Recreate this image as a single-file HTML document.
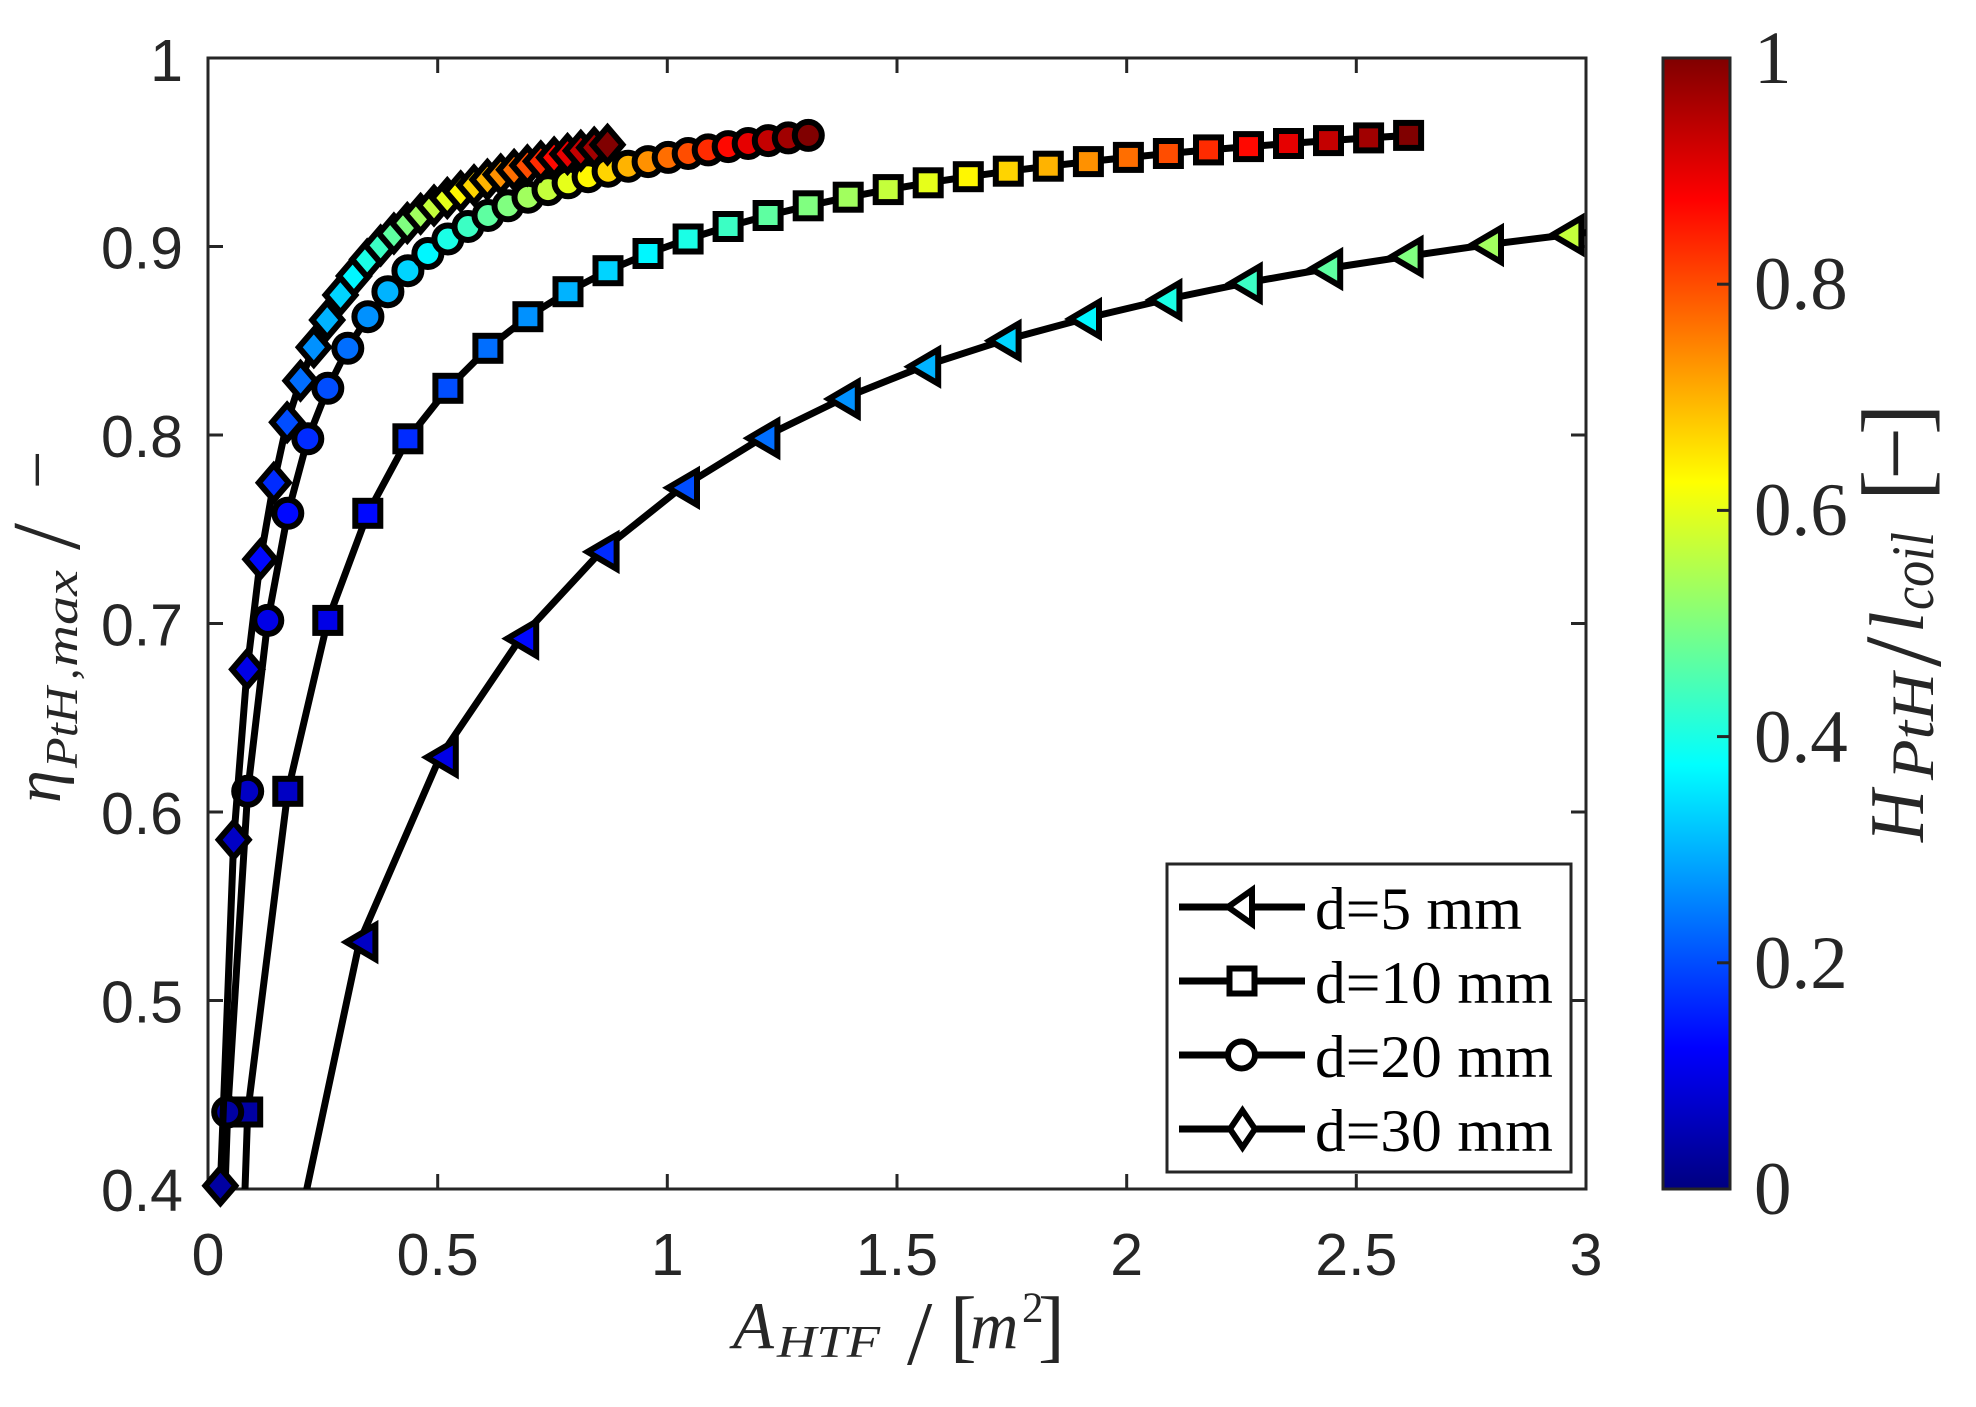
<!DOCTYPE html>
<html><head><meta charset="utf-8"><style>html,body{margin:0;padding:0;background:#fff;width:1976px;height:1407px;overflow:hidden}svg{display:block}</style></head><body>
<svg xmlns="http://www.w3.org/2000/svg" width="1976" height="1407" viewBox="0 0 1976 1407">
<defs>
<linearGradient id="jet" x1="0" y1="1" x2="0" y2="0">
<stop offset="0" stop-color="#000080"/><stop offset="0.125" stop-color="#0000ff"/><stop offset="0.375" stop-color="#00ffff"/><stop offset="0.625" stop-color="#ffff00"/><stop offset="0.875" stop-color="#ff0000"/><stop offset="1" stop-color="#800000"/>
</linearGradient>
<clipPath id="ax"><rect x="208" y="58" width="1378" height="1131"/></clipPath>
<path id="tri" d="M-13,0L16,-17L16,17Z" stroke="#000" stroke-width="6"/>
<rect id="sq" x="-12.5" y="-12.5" width="25" height="25" stroke="#000" stroke-width="6"/>
<circle id="ci" r="13.5" stroke="#000" stroke-width="6"/>
<path id="di" d="M0,-17.5L15,0L0,17.5L-15,0Z" stroke="#000" stroke-width="6"/>
<path id="ltri" d="M-11,0L13,-17L13,17Z" stroke="#000" stroke-width="6"/>
<path id="ldi" d="M0,-18.5L12.5,0L0,18.5L-12.5,0Z" stroke="#000" stroke-width="6"/>
</defs>
<rect width="1976" height="1407" fill="#fff"/>

<!-- axes box -->
<rect x="208" y="58" width="1378" height="1131" fill="#fff" stroke="#262626" stroke-width="3"/>
<g stroke="#262626" stroke-width="3">
<line x1="437.7" y1="1189" x2="437.7" y2="1174"/><line x1="667.3" y1="1189" x2="667.3" y2="1174"/><line x1="897" y1="1189" x2="897" y2="1174"/><line x1="1126.7" y1="1189" x2="1126.7" y2="1174"/><line x1="1356.3" y1="1189" x2="1356.3" y2="1174"/>
<line x1="437.7" y1="58" x2="437.7" y2="73"/><line x1="667.3" y1="58" x2="667.3" y2="73"/><line x1="897" y1="58" x2="897" y2="73"/><line x1="1126.7" y1="58" x2="1126.7" y2="73"/><line x1="1356.3" y1="58" x2="1356.3" y2="73"/>
<line x1="208" y1="1000.5" x2="223" y2="1000.5"/><line x1="208" y1="812" x2="223" y2="812"/><line x1="208" y1="623.5" x2="223" y2="623.5"/><line x1="208" y1="435" x2="223" y2="435"/><line x1="208" y1="246.5" x2="223" y2="246.5"/>
<line x1="1586" y1="1000.5" x2="1571" y2="1000.5"/><line x1="1586" y1="812" x2="1571" y2="812"/><line x1="1586" y1="623.5" x2="1571" y2="623.5"/><line x1="1586" y1="435" x2="1571" y2="435"/><line x1="1586" y1="246.5" x2="1571" y2="246.5"/>
</g>

<!-- tick labels -->
<g font-family="'Liberation Sans', Arial, sans-serif" font-size="59" fill="#262626" text-anchor="middle">
<text x="208" y="1275">0</text><text x="437.7" y="1275">0.5</text><text x="667.3" y="1275">1</text><text x="897" y="1275">1.5</text><text x="1126.7" y="1275">2</text><text x="1356.3" y="1275">2.5</text><text x="1586" y="1275">3</text>
</g>
<g font-family="'Liberation Sans', Arial, sans-serif" font-size="59" fill="#262626" text-anchor="end">
<text x="183" y="1211">0.4</text><text x="183" y="1022.5">0.5</text><text x="183" y="834">0.6</text><text x="183" y="645.5">0.7</text><text x="183" y="457">0.8</text><text x="183" y="268.5">0.9</text><text x="183" y="81">1</text>
</g>

<!-- x label -->
<g font-family="'Liberation Serif', 'Times New Roman', serif" fill="#262626">
<text x="733" y="1348" font-size="67" font-style="italic">A</text>
<text x="777" y="1357" font-size="45" font-style="italic" textLength="103" lengthAdjust="spacingAndGlyphs">HTF</text>
<text x="907" y="1364" font-size="91">/</text>
<text x="950" y="1352" font-size="80">[</text>
<text x="970" y="1348" font-size="67" font-style="italic">m</text>
<text x="1022" y="1322" font-size="43">2</text>
<text x="1038" y="1352" font-size="80">]</text>
</g>

<!-- y label -->
<g transform="rotate(-90)" font-family="'Liberation Serif', 'DejaVu Serif', 'Times New Roman', serif" fill="#262626">
<text x="-803" y="60" font-size="66" font-style="italic">η</text>
<text x="-768" y="77" font-size="46" font-style="italic" textLength="81" lengthAdjust="spacingAndGlyphs">PtH</text>
<text x="-680" y="77" font-size="46" font-style="italic">,</text>
<text x="-667" y="77" font-size="46" font-style="italic" textLength="97" lengthAdjust="spacingAndGlyphs">max</text>
<text x="-550" y="79" font-size="97">/</text>
<text x="-489" y="60" font-size="68">−</text>
</g>

<!-- series d=5 -->
<g clip-path="url(#ax)" fill="none" stroke="#000" stroke-width="7" stroke-linejoin="round">
<polyline points="305.5,1195 359.4,942.1 439.8,757.3 520.2,638.6 600.6,551.9 681.0,487.8 761.4,438.2 841.8,399 922.2,366.7 1002.6,340.7 1083.0,319 1163.4,300 1243.8,283.3 1324.2,269 1404.6,256.7 1485.0,245 1565.4,235 1590,232.2"/>
</g>
<g>
<use href="#tri" x="359.4" y="942.1" fill="#0000c4"/>
<use href="#tri" x="439.8" y="757.3" fill="#0000e6"/>
<use href="#tri" x="520.2" y="638.6" fill="#0008ff"/>
<use href="#tri" x="600.6" y="551.9" fill="#002bff"/>
<use href="#tri" x="681.0" y="487.8" fill="#004dff"/>
<use href="#tri" x="761.4" y="438.2" fill="#006eff"/>
<use href="#tri" x="841.8" y="399" fill="#0091ff"/>
<use href="#tri" x="922.2" y="366.7" fill="#00b3ff"/>
<use href="#tri" x="1002.6" y="340.7" fill="#00d4ff"/>
<use href="#tri" x="1083.0" y="319" fill="#00f7ff"/>
<use href="#tri" x="1163.4" y="300" fill="#1affe6"/>
<use href="#tri" x="1243.8" y="283.3" fill="#3bffc4"/>
<use href="#tri" x="1324.2" y="269" fill="#5effa1"/>
<use href="#tri" x="1404.6" y="256.7" fill="#80ff80"/>
<use href="#tri" x="1485.0" y="245" fill="#a1ff5e"/>
<use href="#tri" x="1565.4" y="235" fill="#c4ff3b"/>
</g>

<!-- series d=10 -->
<g clip-path="url(#ax)" fill="none" stroke="#000" stroke-width="7" stroke-linejoin="round">
<polyline points="244.8,1195 247.7,1112 287.8,791.3 327.8,620.4 367.8,513.3 407.9,438.8 447.9,388.3 487.9,348.3 527.9,316.7 568.0,291.7 608.0,270.7 648.0,253.5 688.1,239.0 728.1,226.5 768.1,215.5 808.2,205.8 848.2,197.2 888.2,189.6 928.2,182.8 968.3,176.7 1008.3,171.2 1048.3,166.2 1088.4,161.6 1128.4,157.4 1168.4,153.5 1208.5,149.9 1248.5,146.6 1288.5,143.5 1328.5,140.6 1368.6,137.9 1408.6,135.4"/>
</g>
<g>
<use href="#sq" x="247.7" y="1112" fill="#0000a1"/>
<use href="#sq" x="287.8" y="791.3" fill="#0000c4"/>
<use href="#sq" x="327.8" y="620.4" fill="#0000e6"/>
<use href="#sq" x="367.8" y="513.3" fill="#0008ff"/>
<use href="#sq" x="407.9" y="438.8" fill="#002bff"/>
<use href="#sq" x="447.9" y="388.3" fill="#004dff"/>
<use href="#sq" x="487.9" y="348.3" fill="#006eff"/>
<use href="#sq" x="527.9" y="316.7" fill="#0091ff"/>
<use href="#sq" x="568.0" y="291.7" fill="#00b3ff"/>
<use href="#sq" x="608.0" y="270.7" fill="#00d4ff"/>
<use href="#sq" x="648.0" y="253.5" fill="#00f7ff"/>
<use href="#sq" x="688.1" y="239.0" fill="#1affe6"/>
<use href="#sq" x="728.1" y="226.5" fill="#3bffc4"/>
<use href="#sq" x="768.1" y="215.5" fill="#5effa1"/>
<use href="#sq" x="808.2" y="205.8" fill="#80ff80"/>
<use href="#sq" x="848.2" y="197.2" fill="#a1ff5e"/>
<use href="#sq" x="888.2" y="189.6" fill="#c4ff3b"/>
<use href="#sq" x="928.2" y="182.8" fill="#e6ff1a"/>
<use href="#sq" x="968.3" y="176.7" fill="#fff700"/>
<use href="#sq" x="1008.3" y="171.2" fill="#ffd400"/>
<use href="#sq" x="1048.3" y="166.2" fill="#ffb300"/>
<use href="#sq" x="1088.4" y="161.6" fill="#ff9100"/>
<use href="#sq" x="1128.4" y="157.4" fill="#ff6e00"/>
<use href="#sq" x="1168.4" y="153.5" fill="#ff4d00"/>
<use href="#sq" x="1208.5" y="149.9" fill="#ff2b00"/>
<use href="#sq" x="1248.5" y="146.6" fill="#ff0800"/>
<use href="#sq" x="1288.5" y="143.5" fill="#e60000"/>
<use href="#sq" x="1328.5" y="140.6" fill="#c40000"/>
<use href="#sq" x="1368.6" y="137.9" fill="#a10000"/>
<use href="#sq" x="1408.6" y="135.4" fill="#800000"/>
</g>

<!-- series d=20 -->
<g clip-path="url(#ax)" fill="none" stroke="#000" stroke-width="7" stroke-linejoin="round">
<polyline points="224.8,1195 227.7,1112 247.7,791.3 267.8,620.4 287.8,513.3 307.8,438.8 327.8,388.3 347.8,348.3 367.9,316.7 387.9,291.7 407.9,270.7 427.9,253.5 447.9,239.0 468.0,226.5 488.0,215.5 508.0,205.8 528.0,197.2 548.0,189.6 568.1,182.8 588.1,176.7 608.1,171.2 628.1,166.2 648.1,161.6 668.2,157.4 688.2,153.5 708.2,149.9 728.2,146.6 748.2,143.5 768.3,140.6 788.3,137.9 808.3,135.4"/>
</g>
<g>
<use href="#ci" x="227.7" y="1112" fill="#0000a1"/>
<use href="#ci" x="247.7" y="791.3" fill="#0000c4"/>
<use href="#ci" x="267.8" y="620.4" fill="#0000e6"/>
<use href="#ci" x="287.8" y="513.3" fill="#0008ff"/>
<use href="#ci" x="307.8" y="438.8" fill="#002bff"/>
<use href="#ci" x="327.8" y="388.3" fill="#004dff"/>
<use href="#ci" x="347.8" y="348.3" fill="#006eff"/>
<use href="#ci" x="367.9" y="316.7" fill="#0091ff"/>
<use href="#ci" x="387.9" y="291.7" fill="#00b3ff"/>
<use href="#ci" x="407.9" y="270.7" fill="#00d4ff"/>
<use href="#ci" x="427.9" y="253.5" fill="#00f7ff"/>
<use href="#ci" x="447.9" y="239.0" fill="#1affe6"/>
<use href="#ci" x="468.0" y="226.5" fill="#3bffc4"/>
<use href="#ci" x="488.0" y="215.5" fill="#5effa1"/>
<use href="#ci" x="508.0" y="205.8" fill="#80ff80"/>
<use href="#ci" x="528.0" y="197.2" fill="#a1ff5e"/>
<use href="#ci" x="548.0" y="189.6" fill="#c4ff3b"/>
<use href="#ci" x="568.1" y="182.8" fill="#e6ff1a"/>
<use href="#ci" x="588.1" y="176.7" fill="#fff700"/>
<use href="#ci" x="608.1" y="171.2" fill="#ffd400"/>
<use href="#ci" x="628.1" y="166.2" fill="#ffb300"/>
<use href="#ci" x="648.1" y="161.6" fill="#ff9100"/>
<use href="#ci" x="668.2" y="157.4" fill="#ff6e00"/>
<use href="#ci" x="688.2" y="153.5" fill="#ff4d00"/>
<use href="#ci" x="708.2" y="149.9" fill="#ff2b00"/>
<use href="#ci" x="728.2" y="146.6" fill="#ff0800"/>
<use href="#ci" x="748.2" y="143.5" fill="#e60000"/>
<use href="#ci" x="768.3" y="140.6" fill="#c40000"/>
<use href="#ci" x="788.3" y="137.9" fill="#a10000"/>
<use href="#ci" x="808.3" y="135.4" fill="#800000"/>
</g>

<!-- series d=30 -->
<g clip-path="url(#ax)" fill="none" stroke="#000" stroke-width="7" stroke-linejoin="round">
<polyline points="220.1,1195 220.4,1185.7 233.7,839.8 247.1,669.4 260.4,559.2 273.8,482.7 287.1,422.3 300.5,380.7 313.8,347.3 327.2,320 340.5,295 353.9,276 367.2,259.5 380.6,245.5 393.9,233.5 407.3,223 420.6,213.8 434.0,205.5 447.3,198 460.7,191.3 474.0,185.2 487.4,179.6 500.7,174.5 514.1,169.8 527.4,165.4 540.8,161.3 554.1,157.5 567.5,154 580.8,150.7 594.2,147.6 607.5,144.7"/>
</g>
<g>
<use href="#di" x="220.4" y="1185.7" fill="#0000a1"/>
<use href="#di" x="233.7" y="839.8" fill="#0000c4"/>
<use href="#di" x="247.1" y="669.4" fill="#0000e6"/>
<use href="#di" x="260.4" y="559.2" fill="#0008ff"/>
<use href="#di" x="273.8" y="482.7" fill="#002bff"/>
<use href="#di" x="287.1" y="422.3" fill="#004dff"/>
<use href="#di" x="300.5" y="380.7" fill="#006eff"/>
<use href="#di" x="313.8" y="347.3" fill="#0091ff"/>
<use href="#di" x="327.2" y="320" fill="#00b3ff"/>
<use href="#di" x="340.5" y="295" fill="#00d4ff"/>
<use href="#di" x="353.9" y="276" fill="#00f7ff"/>
<use href="#di" x="367.2" y="259.5" fill="#1affe6"/>
<use href="#di" x="380.6" y="245.5" fill="#3bffc4"/>
<use href="#di" x="393.9" y="233.5" fill="#5effa1"/>
<use href="#di" x="407.3" y="223" fill="#80ff80"/>
<use href="#di" x="420.6" y="213.8" fill="#a1ff5e"/>
<use href="#di" x="434.0" y="205.5" fill="#c4ff3b"/>
<use href="#di" x="447.3" y="198" fill="#e6ff1a"/>
<use href="#di" x="460.7" y="191.3" fill="#fff700"/>
<use href="#di" x="474.0" y="185.2" fill="#ffd400"/>
<use href="#di" x="487.4" y="179.6" fill="#ffb300"/>
<use href="#di" x="500.7" y="174.5" fill="#ff9100"/>
<use href="#di" x="514.1" y="169.8" fill="#ff6e00"/>
<use href="#di" x="527.4" y="165.4" fill="#ff4d00"/>
<use href="#di" x="540.8" y="161.3" fill="#ff2b00"/>
<use href="#di" x="554.1" y="157.5" fill="#ff0800"/>
<use href="#di" x="567.5" y="154" fill="#e60000"/>
<use href="#di" x="580.8" y="150.7" fill="#c40000"/>
<use href="#di" x="594.2" y="147.6" fill="#a10000"/>
<use href="#di" x="607.5" y="144.7" fill="#800000"/>
</g>

<!-- legend -->
<rect x="1167" y="864" width="404" height="308" fill="#fff" stroke="#262626" stroke-width="3"/>
<g stroke="#000" stroke-width="7">
<line x1="1179" y1="907" x2="1305" y2="907"/>
<line x1="1179" y1="981" x2="1305" y2="981"/>
<line x1="1179" y1="1055" x2="1305" y2="1055"/>
<line x1="1179" y1="1129" x2="1305" y2="1129"/>
</g>
<use href="#ltri" x="1239" y="907" fill="#fff"/>
<use href="#sq" x="1242" y="981" fill="#fff"/>
<use href="#ci" x="1241.5" y="1055" fill="#fff"/>
<use href="#ldi" x="1242.5" y="1129" fill="#fff"/>
<g font-family="'Liberation Serif', 'Times New Roman', serif" font-size="60" fill="#000">
<text x="1315" y="929" textLength="207" lengthAdjust="spacingAndGlyphs">d=5 mm</text>
<text x="1315" y="1003" textLength="238" lengthAdjust="spacingAndGlyphs">d=10 mm</text>
<text x="1315" y="1077" textLength="238" lengthAdjust="spacingAndGlyphs">d=20 mm</text>
<text x="1315" y="1151" textLength="238" lengthAdjust="spacingAndGlyphs">d=30 mm</text>
</g>

<!-- colorbar -->
<rect x="1663" y="58" width="67" height="1131" fill="url(#jet)" stroke="#262626" stroke-width="3"/>
<g stroke="#262626" stroke-width="3">
<line x1="1717" y1="962.8" x2="1730" y2="962.8"/>
<line x1="1717" y1="736.6" x2="1730" y2="736.6"/>
<line x1="1717" y1="510.4" x2="1730" y2="510.4"/>
<line x1="1717" y1="284.2" x2="1730" y2="284.2"/>
</g>
<g font-family="'Liberation Serif', 'Times New Roman', serif" font-size="75" fill="#262626">
<text x="1754" y="1214">0</text>
<text x="1754" y="988">0.2</text>
<text x="1754" y="762">0.4</text>
<text x="1754" y="535">0.6</text>
<text x="1754" y="309">0.8</text>
<text x="1754" y="83">1</text>
</g>

<!-- colorbar label -->
<g transform="rotate(-90)" font-family="'Liberation Serif', 'Times New Roman', serif" fill="#262626">
<text x="-842" y="1923" font-size="77" font-style="italic" textLength="52" lengthAdjust="spacingAndGlyphs">H</text>
<text x="-780" y="1933" font-size="60" font-style="italic" textLength="107" lengthAdjust="spacingAndGlyphs">PtH</text>
<text x="-667" y="1940" font-size="110">/</text>
<text x="-633" y="1923" font-size="77" font-style="italic">l</text>
<text x="-610" y="1933" font-size="60" font-style="italic" textLength="78" lengthAdjust="spacingAndGlyphs">coil</text>
<text x="-501" y="1927" font-size="94">[</text>
<text x="-480" y="1927" font-size="94">−</text>
<text x="-435" y="1927" font-size="94">]</text>
</g>
</svg>
</body></html>
